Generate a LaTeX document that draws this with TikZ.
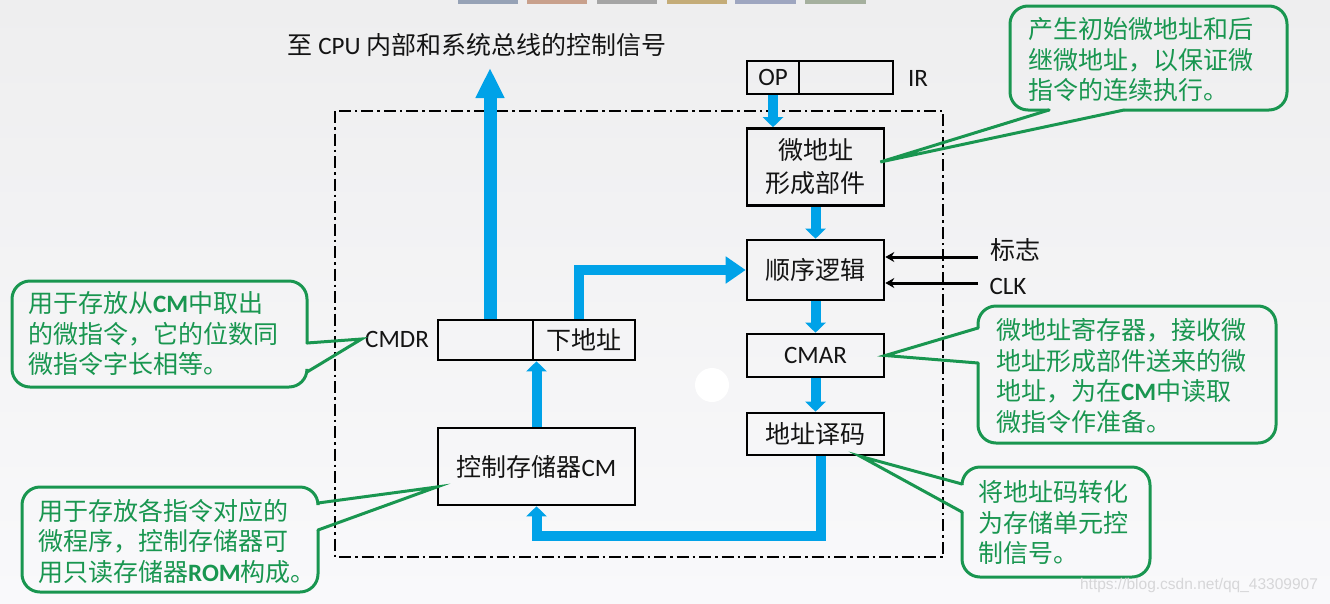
\documentclass[tikz,border=0pt]{standalone}
\usepackage{fontspec}
\setmainfont{Carlito}
\newfontfamily\cjk{Noto Sans CJK SC}
\newfontfamily\wmfont{Liberation Sans}
\usetikzlibrary{arrows.meta,calc}
\definecolor{bblue}{RGB}{0,162,232}
\definecolor{cgreen}{RGB}{25,150,80}
\definecolor{ink}{RGB}{20,20,20}
\begin{document}
\begin{tikzpicture}[x=1pt,y=-1pt,
  box/.style={draw=black, line width=2.6pt, inner sep=0pt, text=ink, font=\fontsize{25}{33}\selectfont\cjk},
  plain/.style={text=ink, font=\fontsize{25}{30}\selectfont\cjk},
  barrow/.style={draw=bblue, line width=10pt, -{Triangle[length=10pt,width=20pt]}},
  callout/.style={draw=cgreen, line width=3pt, rounded corners=18pt, line cap=round},
  ptr/.style={draw=cgreen, line width=3pt, line cap=round, line join=miter},
  ctext/.style={text=cgreen, font=\fontsize{25}{30.5}\selectfont\cjk, align=left, inner sep=0pt, anchor=west},
  tab/.style={line width=0pt}
]
\useasboundingbox (0,0) rectangle (1330,603);
\fill[top color={rgb,255:red,238;green,238;blue,239}, bottom color={rgb,255:red,249;green,249;blue,251}] (0,0) rectangle (1330,603);
% tabs at the top edge
\fill[tab, fill={rgb,255:red,150;green,162;blue,182}] (458,0) rectangle (518,4);
\fill[tab, fill={rgb,255:red,200;green,160;blue,140}] (527,0) rectangle (587,4);
\fill[tab, fill={rgb,255:red,165;green,165;blue,165}] (597,0) rectangle (657,4);
\fill[tab, fill={rgb,255:red,196;green,172;blue,120}] (667,0) rectangle (727,4);
\fill[tab, fill={rgb,255:red,158;green,166;blue,192}] (735,0) rectangle (796,4);
\fill[tab, fill={rgb,255:red,165;green,176;blue,158}] (805,0) rectangle (866,4);

% dash-dot frame
\draw[line width=2pt, dash pattern=on 12pt off 4pt on 2.5pt off 4pt] (335,111) rectangle (943,557);

% white dot
\fill[white] (712,385) circle (17pt);

% title
\node[plain] (title) at (477,45) {至 {\rmfamily CPU} 内部和系统总线的控制信号};

% IR
\node[box, minimum width=52pt, minimum height=33pt] (op) at (773,77.5) {\rmfamily OP};
\node[box, minimum width=94pt, minimum height=33pt] (irr) at (846,77.5) {};
\node[plain, font=\fontsize{25}{30}\selectfont\rmfamily] (ir) at (918,78) {IR};

% right column
\node[box, minimum width=137pt, minimum height=77pt, align=center] (wdz) at (815.5,167) {微地址\\形成部件};
\node[box, minimum width=137pt, minimum height=60pt] (sx) at (815.5,270) {顺序逻辑};
\node[box, minimum width=137pt, minimum height=43pt] (cmar) at (815.5,355.5) {\rmfamily CMAR};
\node[box, minimum width=137pt, minimum height=42pt] (ymq) at (815.5,434) {地址译码};

% left column
\node[box, minimum width=197pt, minimum height=77pt] (cm) at (536.5,466.5) {控制存储器{\rmfamily CM}};
\node[box, minimum width=95pt, minimum height=40pt] (cmdrl) at (485.5,340) {};
\node[box, minimum width=102pt, minimum height=40pt] (xdz) at (584,340) {下地址};
\node[plain, font=\fontsize{25}{30}\selectfont\rmfamily] (cmdrlabel) at (397,339) {CMDR};

% flags
\node[plain] (flag) at (1015,250) {标志};
\node[plain, font=\fontsize{25}{30}\selectfont\rmfamily] (clk) at (1008,286) {CLK};
\coordinate (f1) at (978,257);
\coordinate (f2) at (978,283);
\draw[line width=3pt, -{Stealth[length=9pt,width=10pt]}] (f1) -- (f1 -| sx.east);
\draw[line width=3pt, -{Stealth[length=9pt,width=10pt]}] (f2) -- (f2 -| sx.east);

% blue arrows
\coordinate (topc) at (490,68);
\draw[barrow] (op.south) -- (op.south |- wdz.north);
\draw[barrow] (wdz.south) -- (sx.north);
\draw[barrow] (sx.south) -- (cmar.north);
\draw[barrow] (cmar.south) -- (ymq.north);
\draw[barrow] ([xshift=5pt]ymq.south) -- ++(0,80) -| (cm.south);
\draw[barrow] (cm.north) -- (cm.north |- xdz.south);
\draw[barrow, line width=13pt, -{Triangle[length=30pt,width=27pt]}] ([xshift=4.5pt]cmdrl.north) -- (topc);
\draw[barrow, -{Triangle[length=20pt,width=26pt]}] ([xshift=-5pt]xdz.north) |- (sx.west);

% callout 1
\coordinate (t1) at ([xshift=-5pt,yshift=5pt]wdz.east);
\draw[callout] (1124,110) -- (1287,110) -- (1287,6) -- (1010,6) -- (1010,110) -- (1049,110);
\draw[ptr] (1049,110) -- (t1) -- (1124,110);
\node[ctext] (c1) at (1028,60) {产生初始微地址和后\\继微地址，以保证微\\指令的连续执行。};

% callout 2
\draw[callout] (307,343) -- (307,281) -- (12,281) -- (12,387) -- (307,387) -- (307,372);
\draw[ptr] (307,343) -- (cmdrlabel.west) -- (307,372);
\node[ctext] (c2) at (28,334) {用于存放从{\rmfamily\bfseries CM}中取出\\的微指令，它的位数同\\微指令字长相等。};

% callout 3
\coordinate (t3) at ([yshift=-20.5pt]cm.west);
\draw[callout] (318,530) -- (318,592) -- (22,592) -- (22,487) -- (318,487) -- (318,503);
\draw[ptr] (318,503) -- (t3) -- (318,530);
\node[ctext] (c3) at (38,541) {用于存放各指令对应的\\微程序，控制存储器可\\用只读存储器{\rmfamily\bfseries ROM}构成。};

% callout 4
\draw[callout] (978,363) -- (978,443) -- (1276,443) -- (1276,306) -- (978,306) -- (978,328);
\draw[ptr] (978,328) -- (cmar.east) -- (978,363);
\node[ctext] (c4) at (996,376) {微地址寄存器，接收微\\地址形成部件送来的微\\地址，为在{\rmfamily\bfseries CM}中读取\\微指令作准备。};

% callout 5
\coordinate (t5) at ([xshift=-25pt]ymq.south east);
\draw[callout] (962,512) -- (962,577) -- (1150,577) -- (1150,467) -- (962,467) -- (962,484);
\draw[ptr] (962,484) -- (t5) -- (962,512);
\node[ctext] (c5) at (978,523) {将地址码转化\\为存储单元控\\制信号。};

% watermark
\node[text={rgb,255:red,214;green,214;blue,216}, font=\fontsize{15.5}{16}\selectfont\wmfont] (wm) at (1199,585) {https://blog.csdn.net/qq\_43309907};
\end{tikzpicture}
\end{document}
